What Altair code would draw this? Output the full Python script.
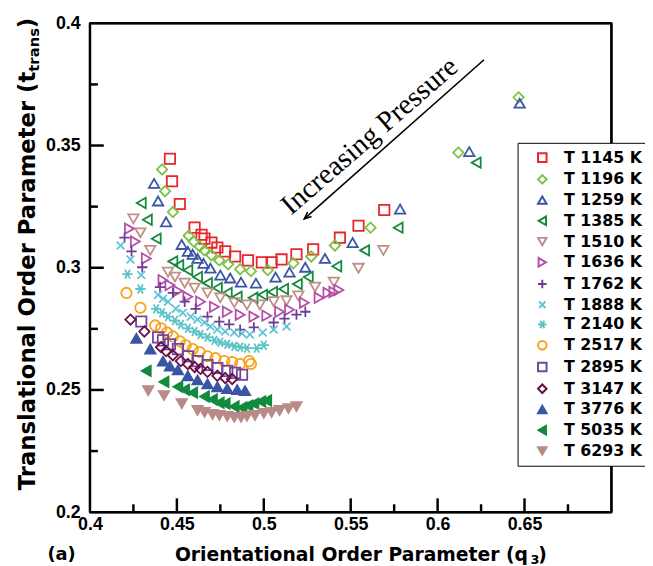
import altair as alt
import pandas as pd

labels = ["T 1145 K", "T 1196 K", "T 1259 K", "T 1385 K", "T 1510 K",
          "T 1636 K", "T 1762 K", "T 1888 K", "T 2140 K", "T 2517 K",
          "T 2895 K", "T 3147 K", "T 3776 K", "T 5035 K", "T 6293 K"]
colors = ["#e8262b", "#7cc242", "#3a55a4", "#138a3e", "#c09088",
          "#b44fa8", "#6d3f98", "#62c4d8", "#5cc4c4", "#f7a21b",
          "#70479c", "#6a0f45", "#3a55a4", "#138a3e", "#b98b86"]
PLUS = "M-1,0L1,0M0,-1L0,1"
XMARK = "M-0.75,-0.75L0.75,0.75M-0.75,0.75L0.75,-0.75"
STAR = "M-1,0L1,0M-0.5,-0.866L0.5,0.866M-0.5,0.866L0.5,-0.866"
shapes = ["square", "diamond", "triangle-up", "triangle-left", "triangle-down",
          "triangle-right", PLUS, XMARK, STAR, "circle",
          "square", "diamond", "triangle-up", "triangle-left", "triangle-down"]
fills = ["transparent"] * 12 + ["#3a55a4", "#138a3e", "#b98b86"]

q_1145 = [0.4460, 0.4472, 0.4517, 0.4602, 0.4642, 0.4659, 0.4699, 0.4733, 0.4778, 0.4835, 0.4909, 0.4989, 0.5045, 0.5102, 0.5188, 0.5284, 0.5438, 0.5545, 0.5693]
t_1145 = [0.3446, 0.3354, 0.3261, 0.3164, 0.3135, 0.3119, 0.3103, 0.3083, 0.3067, 0.3046, 0.3030, 0.3022, 0.3022, 0.3034, 0.3055, 0.3075, 0.3123, 0.3172, 0.3236]

q_1196 = [0.4415, 0.4432, 0.4477, 0.4568, 0.4597, 0.4631, 0.4659, 0.4699, 0.4744, 0.4795, 0.4864, 0.4926, 0.5023, 0.5170, 0.5273, 0.5409, 0.5614, 0.6119, 0.6466]
t_1196 = [0.3402, 0.3313, 0.3228, 0.3131, 0.3107, 0.3087, 0.3071, 0.3051, 0.3030, 0.3014, 0.2994, 0.2986, 0.2990, 0.3018, 0.3046, 0.3091, 0.3164, 0.3471, 0.3697]

q_1259 = [0.4369, 0.4392, 0.4438, 0.4528, 0.4563, 0.4591, 0.4619, 0.4653, 0.4693, 0.4750, 0.4807, 0.4869, 0.4955, 0.5068, 0.5148, 0.5239, 0.5352, 0.5511, 0.5784, 0.6182, 0.6472]
t_1259 = [0.3345, 0.3273, 0.3188, 0.3095, 0.3067, 0.3055, 0.3038, 0.3018, 0.2998, 0.2970, 0.2958, 0.2941, 0.2937, 0.2962, 0.2982, 0.3002, 0.3038, 0.3103, 0.3240, 0.3475, 0.3673]

q_1385 = [0.4295, 0.4330, 0.4381, 0.4477, 0.4511, 0.4563, 0.4619, 0.4676, 0.4733, 0.4790, 0.4847, 0.4938, 0.4994, 0.5051, 0.5114, 0.5193, 0.5256, 0.5420, 0.5580, 0.5773, 0.6222]
t_1385 = [0.3265, 0.3196, 0.3119, 0.3026, 0.3010, 0.2990, 0.2962, 0.2937, 0.2917, 0.2897, 0.2881, 0.2877, 0.2889, 0.2901, 0.2913, 0.2933, 0.2962, 0.3006, 0.3071, 0.3164, 0.3430]

q_1510 = [0.4250, 0.4290, 0.4347, 0.4449, 0.4489, 0.4545, 0.4602, 0.4676, 0.4750, 0.4830, 0.4903, 0.4977, 0.5057, 0.5131, 0.5199, 0.5295, 0.5403, 0.5545, 0.5688]
t_1510 = [0.3200, 0.3143, 0.3071, 0.2982, 0.2962, 0.2937, 0.2917, 0.2897, 0.2877, 0.2857, 0.2848, 0.2848, 0.2861, 0.2865, 0.2885, 0.2921, 0.2941, 0.2998, 0.3071]

q_1636 = [0.4227, 0.4261, 0.4324, 0.4420, 0.4460, 0.4506, 0.4563, 0.4636, 0.4716, 0.4790, 0.4864, 0.4943, 0.5017, 0.5091, 0.5148, 0.5233, 0.5318, 0.5369, 0.5403, 0.5432]
t_1636 = [0.3160, 0.3107, 0.3038, 0.2949, 0.2929, 0.2905, 0.2881, 0.2861, 0.2840, 0.2820, 0.2808, 0.2800, 0.2804, 0.2820, 0.2828, 0.2857, 0.2877, 0.2897, 0.2901, 0.2909]

q_1762 = [0.4199, 0.4239, 0.4301, 0.4403, 0.4477, 0.4545, 0.4608, 0.4676, 0.4744, 0.4801, 0.4864, 0.4943, 0.5057, 0.5119, 0.5188, 0.5239]
t_1762 = [0.3123, 0.3067, 0.3002, 0.2921, 0.2897, 0.2861, 0.2832, 0.2800, 0.2780, 0.2768, 0.2747, 0.2756, 0.2776, 0.2792, 0.2808, 0.2820]

q_1888 = [0.4176, 0.4233, 0.4295, 0.4392, 0.4420, 0.4449, 0.4494, 0.4534, 0.4580, 0.4619, 0.4659, 0.4693, 0.4733, 0.4778, 0.4830, 0.4875, 0.4920, 0.4994, 0.5057, 0.5131]
t_1888 = [0.3091, 0.3034, 0.2970, 0.2889, 0.2873, 0.2861, 0.2832, 0.2816, 0.2800, 0.2788, 0.2776, 0.2760, 0.2747, 0.2739, 0.2735, 0.2731, 0.2727, 0.2735, 0.2747, 0.2760]

q_2140 = [0.4216, 0.4290, 0.4381, 0.4415, 0.4449, 0.4489, 0.4523, 0.4563, 0.4602, 0.4636, 0.4676, 0.4716, 0.4750, 0.4790, 0.4830, 0.4864, 0.4903, 0.4960, 0.5000]
t_2140 = [0.2974, 0.2913, 0.2832, 0.2816, 0.2800, 0.2784, 0.2768, 0.2752, 0.2739, 0.2727, 0.2715, 0.2703, 0.2695, 0.2687, 0.2679, 0.2675, 0.2671, 0.2671, 0.2683]

q_2517 = [0.4210, 0.4290, 0.4375, 0.4409, 0.4443, 0.4477, 0.4517, 0.4551, 0.4591, 0.4631, 0.4676, 0.4722, 0.4773, 0.4818, 0.4864, 0.4915, 0.4926]
t_2517 = [0.2897, 0.2836, 0.2764, 0.2752, 0.2735, 0.2719, 0.2699, 0.2683, 0.2667, 0.2655, 0.2638, 0.2630, 0.2618, 0.2614, 0.2606, 0.2618, 0.2606]

q_2895 = [0.4295, 0.4392, 0.4420, 0.4460, 0.4506, 0.4563, 0.4619, 0.4676, 0.4733, 0.4790, 0.4835, 0.4875]
t_2895 = [0.2780, 0.2715, 0.2703, 0.2687, 0.2667, 0.2638, 0.2618, 0.2602, 0.2590, 0.2578, 0.2570, 0.2562]

q_3147 = [0.4233, 0.4313, 0.4409, 0.4438, 0.4477, 0.4523, 0.4563, 0.4602, 0.4636, 0.4676, 0.4733, 0.4778, 0.4818]
t_3147 = [0.2788, 0.2739, 0.2675, 0.2659, 0.2642, 0.2618, 0.2606, 0.2594, 0.2586, 0.2574, 0.2558, 0.2549, 0.2545]

q_3776 = [0.4267, 0.4347, 0.4420, 0.4460, 0.4506, 0.4563, 0.4619, 0.4676, 0.4733, 0.4790, 0.4847, 0.4892]
t_3776 = [0.2711, 0.2667, 0.2618, 0.2598, 0.2582, 0.2558, 0.2541, 0.2525, 0.2513, 0.2505, 0.2501, 0.2497]

q_5035 = [0.4324, 0.4426, 0.4506, 0.4545, 0.4591, 0.4659, 0.4705, 0.4744, 0.4778, 0.4830, 0.4875, 0.4909, 0.4943, 0.4983, 0.5017]
t_5035 = [0.2578, 0.2533, 0.2513, 0.2501, 0.2489, 0.2473, 0.2461, 0.2448, 0.2444, 0.2432, 0.2428, 0.2436, 0.2444, 0.2453, 0.2457]

q_6293 = [0.4335, 0.4426, 0.4528, 0.4619, 0.4659, 0.4705, 0.4744, 0.4790, 0.4830, 0.4869, 0.4903, 0.4949, 0.5000, 0.5045, 0.5091, 0.5142, 0.5188]
t_6293 = [0.2497, 0.2477, 0.2444, 0.2416, 0.2408, 0.2400, 0.2396, 0.2392, 0.2388, 0.2388, 0.2392, 0.2396, 0.2404, 0.2408, 0.2416, 0.2424, 0.2432]

series_q = [q_1145, q_1196, q_1259, q_1385, q_1510, q_1636, q_1762, q_1888,
            q_2140, q_2517, q_2895, q_3147, q_3776, q_5035, q_6293]
series_t = [t_1145, t_1196, t_1259, t_1385, t_1510, t_1636, t_1762, t_1888,
            t_2140, t_2517, t_2895, t_3147, t_3776, t_5035, t_6293]

x_major = [0.45, 0.5, 0.55, 0.6, 0.65]
x_minor = [0.425, 0.475, 0.525, 0.575, 0.625, 0.675]
y_major = [0.25, 0.3, 0.35]
y_minor = [0.225, 0.275, 0.325, 0.375]
x_labels = [0.4, 0.45, 0.5, 0.55, 0.6, 0.65]
y_labels = [0.2, 0.25, 0.3, 0.35, 0.4]
X0, X1, Y0, Y1 = 0.4, 0.7, 0.2, 0.4
# arrow annotation end points (data units)
arrow_q = [0.6267, 0.5233]
arrow_t = [0.3851, 0.3200]

rows = []
for i, lab in enumerate(labels):
    for q, t in zip(series_q[i], series_t[i]):
        rows.append({"series": lab, "q3": q, "t": t, "k": i})
df = pd.DataFrame(rows)

W, H = 528, 495
xs = alt.Scale(domain=[X0, X1], nice=False, zero=False)
ys = alt.Scale(domain=[Y0, Y1], nice=False, zero=False)
px_x = (X1 - X0) / W
px_y = (Y1 - Y0) / H

leg = alt.Legend(
    title=None, orient="none", legendX=433, legendY=121,
    padding=7, strokeColor="black", fillColor="white",
    labelFont="DejaVu Sans", labelFontWeight="bold", labelFontSize=16,
    labelColor="black", labelOffset=14, labelLimit=200,
    symbolSize=75, symbolStrokeWidth=2, rowPadding=4, symbolOffset=10,
)

points = alt.Chart(df).mark_point(filled=False, size=110, strokeWidth=1.8, opacity=1).encode(
    x=alt.X("q3:Q", scale=xs, axis=alt.Axis(
        values=x_labels, format=".2~f", title=None, ticks=False, grid=False, domain=False,
        labelFont="Liberation Sans", labelFontWeight="bold", labelFontSize=18,
        labelColor="black", labelPadding=4, labelFlush=False)),
    y=alt.Y("t:Q", scale=ys, axis=alt.Axis(
        values=y_labels, format=".2~f", title=None, ticks=False, grid=False, domain=False,
        labelFont="Liberation Sans", labelFontWeight="bold", labelFontSize=18,
        labelColor="black", labelPadding=10, labelFlush=False)),
    shape=alt.Shape("series:N", scale=alt.Scale(domain=labels, range=shapes), legend=leg),
    stroke=alt.Stroke("series:N", scale=alt.Scale(domain=labels, range=colors), legend=leg),
    fill=alt.Fill("series:N", scale=alt.Scale(domain=labels, range=fills), legend=leg),
    order=alt.Order("k:Q"),
)

seg_rows = [
    {"xa": X0, "xb": X1, "ya": Y0, "yb": Y0},
    {"xa": X0, "xb": X1, "ya": Y1, "yb": Y1},
    {"xa": X0, "xb": X0, "ya": Y0, "yb": Y1},
    {"xa": X1, "xb": X1, "ya": Y0, "yb": Y1},
]
for v in x_major:
    seg_rows.append({"xa": v, "xb": v, "ya": Y0, "yb": Y0 + 14 * px_y})
for v in x_minor:
    seg_rows.append({"xa": v, "xb": v, "ya": Y0, "yb": Y0 + 8 * px_y})
for v in y_major:
    seg_rows.append({"xa": X0, "xb": X0 + 14 * px_x, "ya": v, "yb": v})
for v in y_minor:
    seg_rows.append({"xa": X0, "xb": X0 + 8 * px_x, "ya": v, "yb": v})
frame = alt.Chart(pd.DataFrame(seg_rows)).mark_rule(color="black", strokeWidth=2.5).encode(
    x=alt.X("xa:Q", scale=xs), x2="xb:Q", y=alt.Y("ya:Q", scale=ys), y2="yb:Q")

arrow_df = pd.DataFrame({"xa": [arrow_q[0]], "xb": [arrow_q[1]],
                         "ya": [arrow_t[0]], "yb": [arrow_t[1]]})
arrow_line = alt.Chart(arrow_df).mark_rule(color="black", strokeWidth=1.6).encode(
    x=alt.X("xa:Q", scale=xs), x2="xb:Q", y=alt.Y("ya:Q", scale=ys), y2="yb:Q")
head_df = pd.DataFrame({"xa": [arrow_q[1]], "ya": [arrow_t[1]]})
arrow_head = alt.Chart(head_df).mark_point(
    shape="M-0.55,1.3L0,0L0.55,1.3", angle=228.5, size=120, filled=False,
    color="black", strokeWidth=1.6, opacity=1).encode(
    x=alt.X("xa:Q", scale=xs), y=alt.Y("ya:Q", scale=ys))

one = alt.Data(values=[{"a": 1}])

def txt(s, x, y, size, font="DejaVu Sans", weight="bold", align="left", angle=0):
    return alt.Chart(one).mark_text(
        text=s, font=font, fontWeight=weight, fontSize=size, align=align,
        angle=angle, color="black").encode(x=alt.value(x), y=alt.value(y))

xt = txt("Orientational Order Parameter (q", 86, 538, 19)
xt_sub = txt("3", 86 + 360, 543, 13)
xt_close = txt(")", 86 + 360 + 8, 538, 19)
YT = 49
yt = txt("Translational Order Parameter (t", -63, YT, 23, align="right", angle=270)
yt_sub = txt("trans", -57, YT, 15, align="left", angle=270)
yt_close = txt(")", -63, YT - 44, 23, align="left", angle=270)
panel = txt("(a)", -43, 538, 18)
ann = txt("Increasing Pressure", 283, 114, 29, font="Liberation Serif", weight="normal",
          align="center", angle=319)

chart = alt.layer(
    points, frame, arrow_line, arrow_head,
    xt, xt_sub, xt_close, yt, yt_sub, yt_close, panel, ann,
).properties(
    width=W, height=H,
    autosize=alt.AutoSizeParams(type="none"),
    padding={"left": 83, "top": 12, "right": 34, "bottom": 51},
).configure_view(stroke="black", strokeWidth=2)

chart.save("out.html", embed_options={"renderer": "svg", "actions": False})
